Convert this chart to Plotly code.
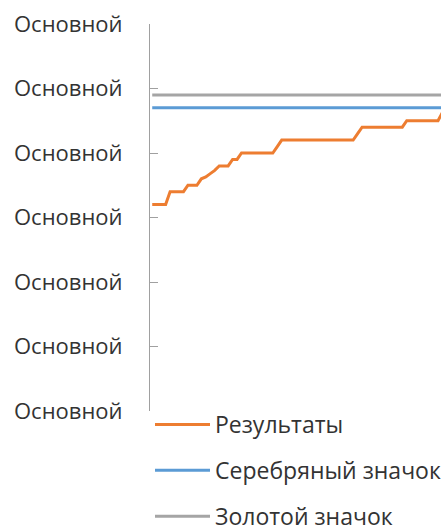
import plotly.graph_objects as go

# Data
results = [3.2, 3.2, 3.2, 3.2,
           3.4, 3.4, 3.4, 3.4,
           3.5, 3.5, 3.5,
           3.6, 3.63, 3.68, 3.73,
           3.8, 3.8, 3.8,
           3.9, 3.9,
           4.0, 4.0, 4.0, 4.0, 4.0, 4.0, 4.0, 4.0,
           4.1,
           4.2, 4.2, 4.2, 4.2, 4.2, 4.2, 4.2, 4.2, 4.2, 4.2, 4.2, 4.2, 4.2, 4.2, 4.2, 4.2, 4.2,
           4.3,
           4.4, 4.4, 4.4, 4.4, 4.4, 4.4, 4.4, 4.4, 4.4, 4.4,
           4.5, 4.5, 4.5, 4.5, 4.5, 4.5, 4.5, 4.5,
           4.63]
silver = 4.7
gold = 4.9
categories = list(range(len(results)))
silver_values = [silver] * len(categories)
gold_values = [gold] * len(categories)
tick_values = [0, 1, 2, 3, 4, 5, 6]
tick_labels = ["Основной"] * 7

series_names = ["Результаты", "Серебряный значок", "Золотой значок"]
colors = ["#ED7D31", "#5B9BD5", "#A5A5A5"]

fig = go.Figure()
for name, vals, col in zip(series_names, [results, silver_values, gold_values], colors):
    fig.add_trace(go.Scatter(x=categories, y=vals, mode="lines", name=name,
                             legendgroup=name,
                             line=dict(color=col, width=3)))

font_family = "Open Sans"
fig.update_layout(
    width=441, height=528,
    margin=dict(l=150, r=0, t=24, b=117, autoexpand=False),
    paper_bgcolor="white", plot_bgcolor="white",
    font=dict(family=font_family, size=22, color="#333333"),
    showlegend=True,
    legend=dict(orientation="v", xref="container", yref="container",
                x=150/441, y=1 - 403/528, xanchor="left", yanchor="top",
                tracegroupgap=13, font=dict(size=23, color="#333333"),
                itemwidth=55, bgcolor="rgba(0,0,0,0)"),
    xaxis=dict(range=[-0.5, 64.67], visible=False, automargin=False),
    yaxis=dict(range=[0, 6], tickvals=tick_values, ticktext=tick_labels,
               ticks="inside", ticklen=8, tickcolor="#A0A0A0", tickwidth=1,
               showline=True, linecolor="#A0A0A0", linewidth=1, automargin=False,
               showgrid=False, zeroline=False, ticklabelstandoff=22),
)

fig.write_html("out.html")
